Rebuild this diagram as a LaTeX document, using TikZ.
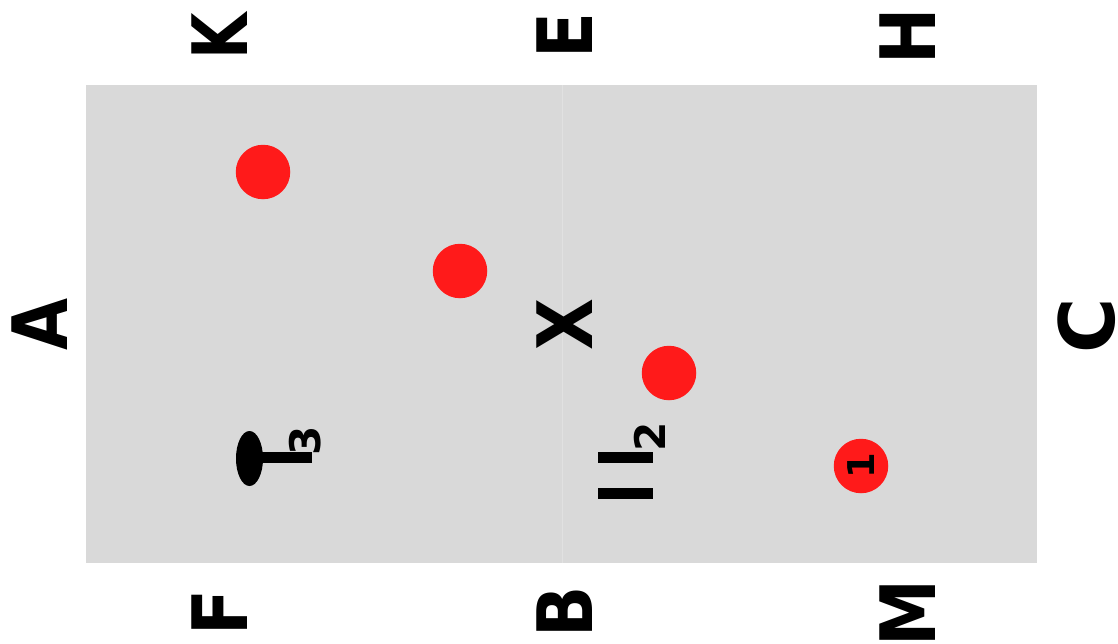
\documentclass[tikz,border=0pt]{standalone}
\usepackage{fontspec}
\setmainfont{DejaVu Sans}
\definecolor{courtgray}{RGB}{217,217,217}
\definecolor{linegray}{RGB}{225,225,225}
\definecolor{dotred}{RGB}{255,26,26}
\tikzset{
  marker/.style={font=\bfseries\fontsize{43.5}{44}\selectfont, rotate=90, inner sep=0pt, xscale=0.88},
  player/.style={circle, fill=dotred, minimum size=1.09cm, inner sep=0pt},
  small/.style={font=\bfseries\fontsize{24}{24}\selectfont, rotate=90, inner sep=0pt},
}
\begin{document}
\begin{tikzpicture}
    % Frame
    \useasboundingbox (0,0) rectangle (22.36,12.86);
    \fill[courtgray] (1.72,1.6) rectangle (20.74,11.16);
    \draw[linegray, line width=0.5pt] (11.24,1.6) -- (11.24,11.16);

    % Markers
    \node[marker] (mA) at (0.8,6.38) {A};
    \node[marker, xscale=1.12] (mC) at (21.74,6.34) {C};
    \node[marker, xscale=0.89] (mK) at (4.39,12.13) {K};
    \node[marker] (mE) at (11.3,12.15) {E};
    \node[marker] (mH) at (18.16,12.14) {H};
    \node[marker] (mF) at (4.39,0.6) {F};
    \node[marker] (mB) at (11.3,0.62) {B};
    \node[marker] (mM) at (18.16,0.6) {M};
    \node[marker] (mX) at (11.3,6.36) {X};

    % Players
    \node[player] (p1) at (5.26,9.42) {};
    \node[player] (p2) at (9.2,7.44) {};
    \node[player] (p3) at (13.38,5.4) {};
    \node[player] (p4) at (17.22,3.54) {};
    \node[small, font=\bfseries\fontsize{21}{21}\selectfont] (n1) at (17.22,3.54) {1};

    % Pin
    \fill (4.99,3.69) ellipse (0.27 and 0.55);
    \fill (5,3.6) rectangle (6.24,3.82);
    \node[small] (n3) at (6.1,4.05) {3};

    % Double bar
    \fill (11.96,2.88) rectangle (13.06,3.1);
    \fill (11.96,3.6) rectangle (13.06,3.82);
    \node[small] (n2) at (13,4.12) {2};
\end{tikzpicture}
\end{document}
